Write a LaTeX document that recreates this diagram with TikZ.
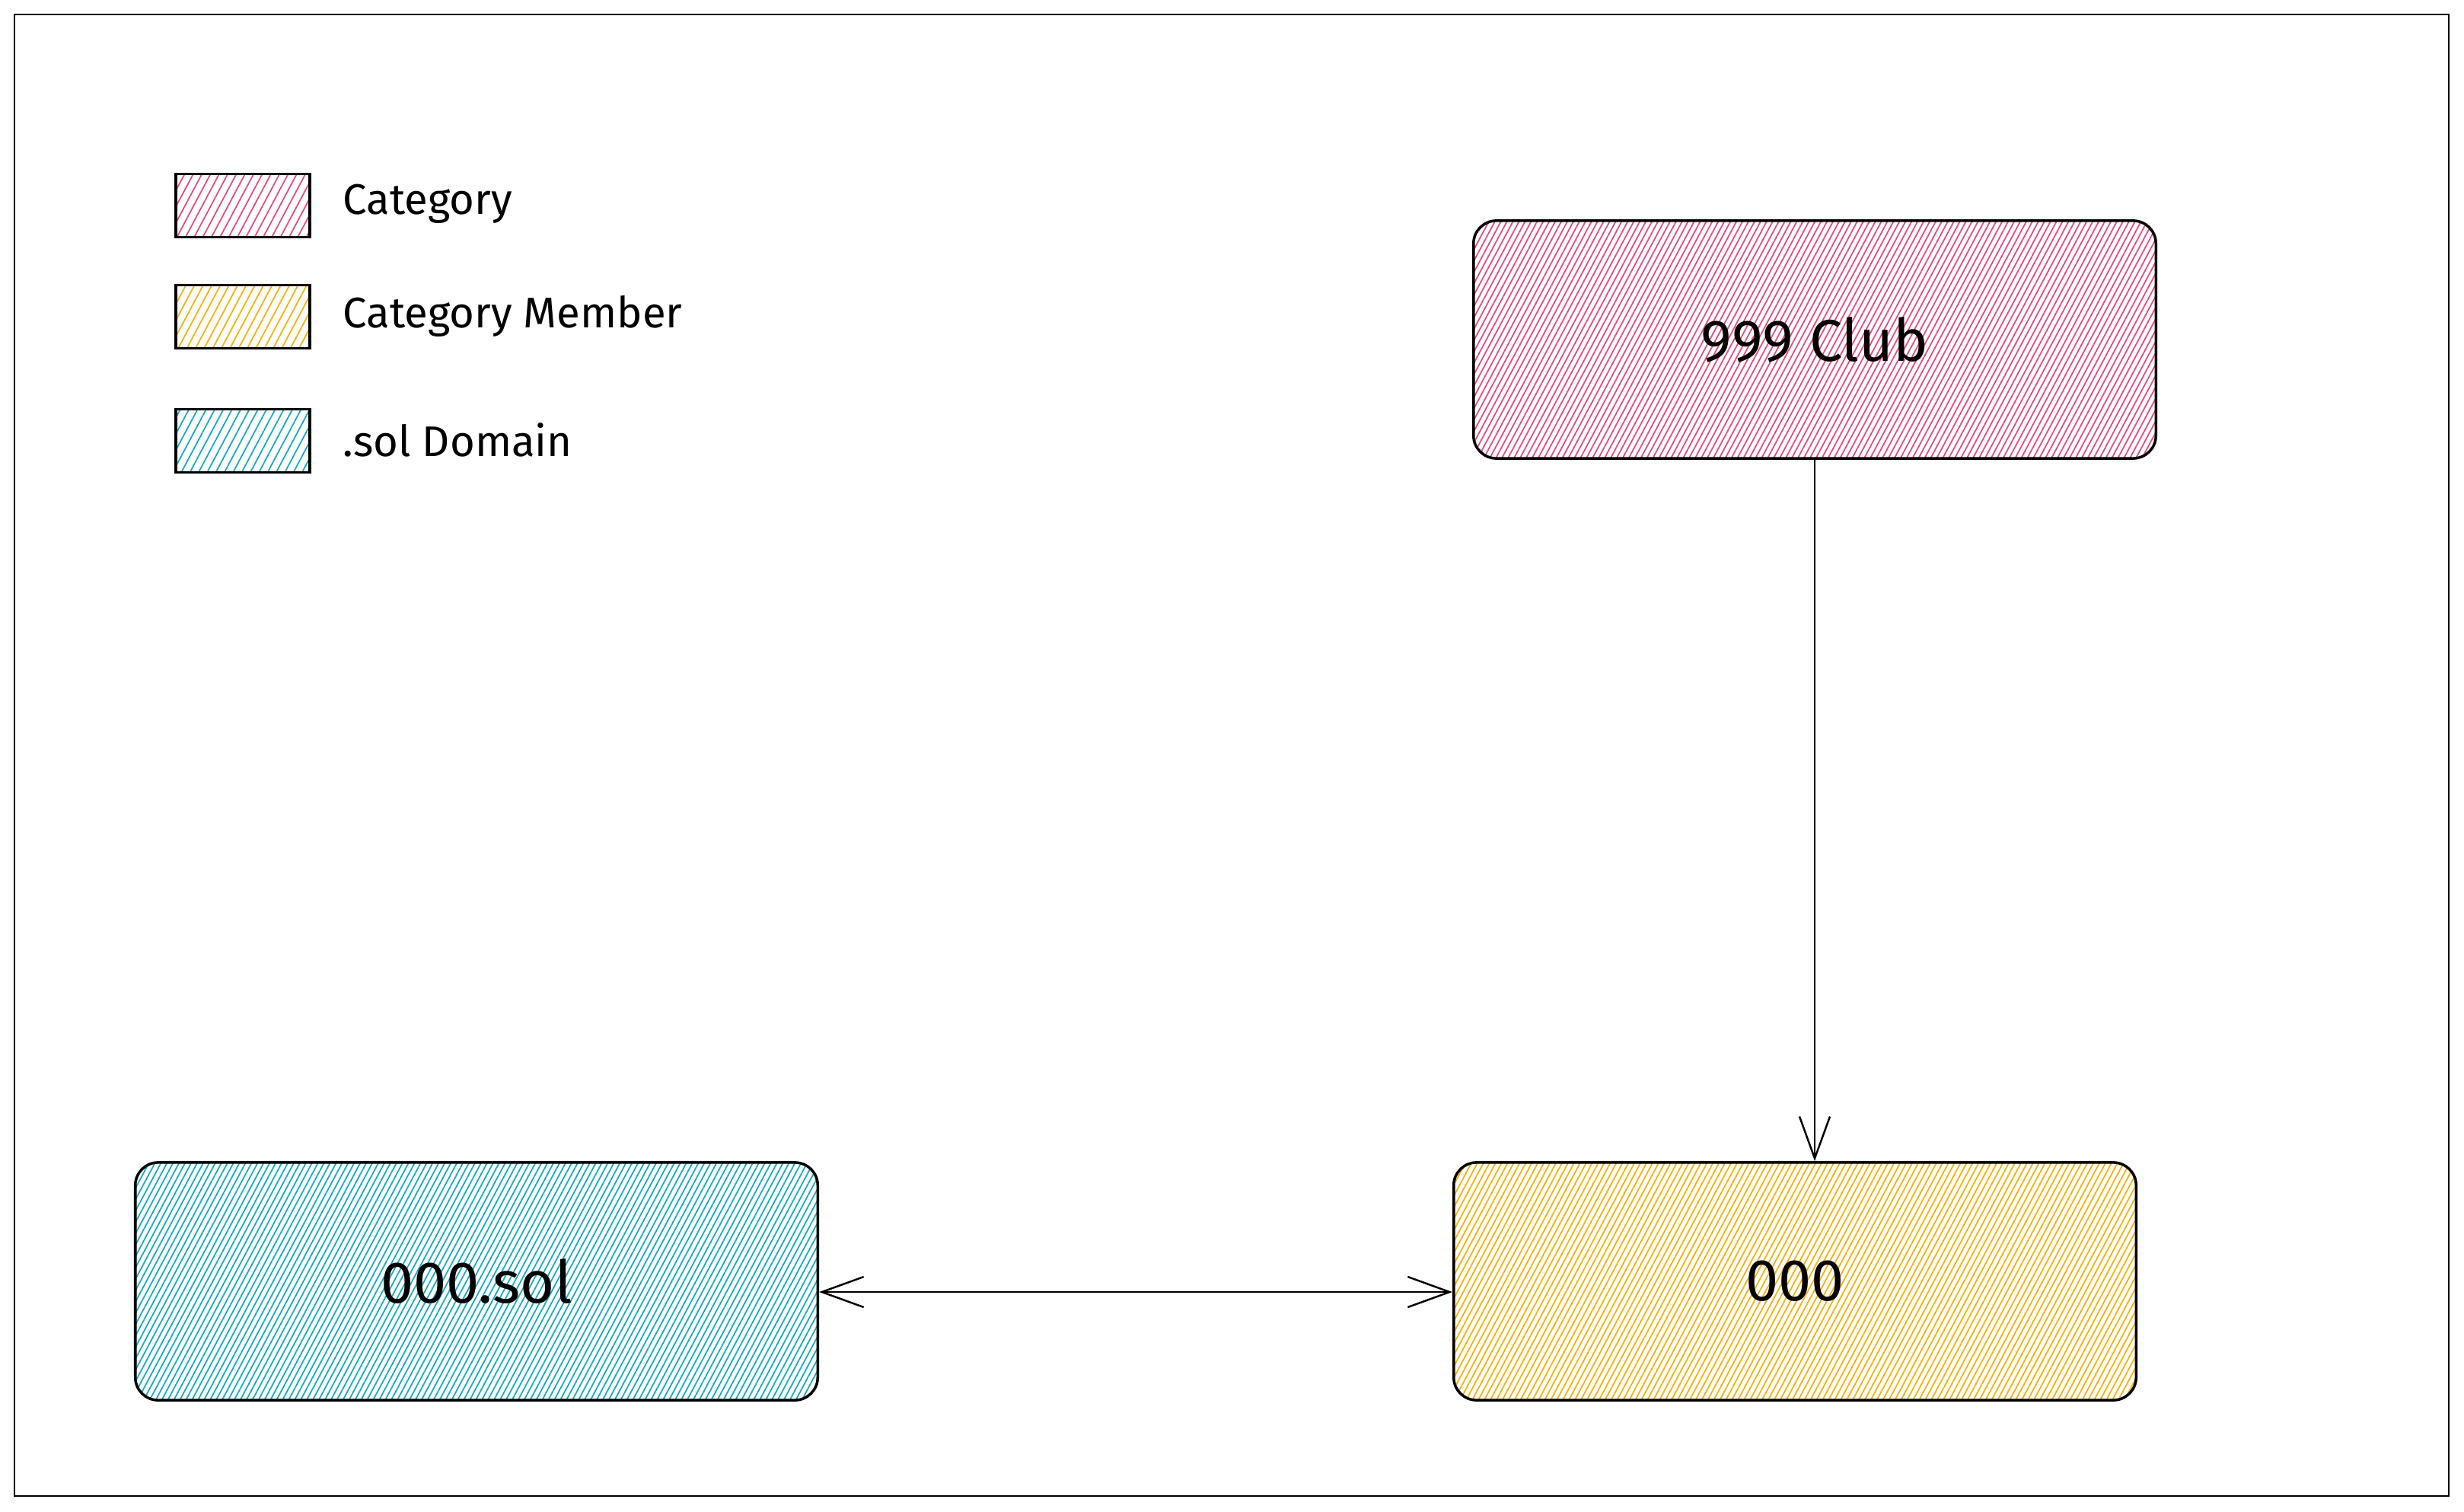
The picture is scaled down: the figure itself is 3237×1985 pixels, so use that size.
\documentclass[tikz,border=0pt]{standalone}
\usepackage{fontspec}
\setmainfont{Fira Sans}
\usetikzlibrary{arrows.meta,patterns.meta}
\tikzset{>=Straight Barb}
\definecolor{catpink}{HTML}{E64980}
\definecolor{memberyellow}{HTML}{FAB005}
\definecolor{solcyan}{HTML}{15AABF}

\begin{document}
\begin{tikzpicture}[x=0.01cm,y=-0.01cm]
	\tikzset{edge/.style = {->,> = {Straight Barb[length=5.5mm,width=4mm]}, line width=0.7pt}}
	\tikzset{box/.style = {rectangle, rounded corners=0.3cm, draw, line width=1pt, minimum width=8.96cm, minimum height=3.12cm, font=\fontsize{22}{26}\selectfont}}
	\tikzset{key/.style = {rectangle, draw, line width=1pt, minimum width=1.76cm, minimum height=0.83cm}}
	\tikzset{keytext/.style = {anchor=west, inner xsep=0pt, font=\fontsize{16}{19}\selectfont}}
	\tikzset{hatch/.style = {pattern={Lines[angle=62,distance=#1,line width=0.5pt]}}}
	\tikzset{pinkfill/.style = {hatch=0.07cm, pattern color=catpink}}
	\tikzset{yellowfill/.style = {hatch=0.07cm, pattern color=memberyellow}}
	\tikzset{cyanfill/.style = {hatch=0.07cm, pattern color=solcyan}}

	\useasboundingbox (0,0) rectangle (3237,1985);
	\draw[line width=0.8pt] (19,19) rectangle (3217,1965);

	% legend
	\node[key, pinkfill, hatch=0.1cm] (k1) at (319,270) {};
	\node[key, yellowfill, hatch=0.1cm] (k2) at (319,416) {};
	\node[key, cyanfill, hatch=0.1cm] (k3) at (319,579) {};
	\node[keytext] (t1) at (450,268) {Category};
	\node[keytext] (t2) at (450,415) {Category Member};
	\node[keytext] (t3) at (450,578) {.sol Domain};

	% boxes
	\node[box, pinkfill] (club) at (2384,446) {999 Club};
	\node[box, yellowfill] (member) at (2358,1683) {000};
	\node[box, cyanfill] (sol) at (626,1683) {000.sol};

	\draw[edge] (club.south) -- (club.south |- member.north);
	\draw[edge, <->] ([yshift=-0.14cm]sol.east) -- ([yshift=-0.14cm]member.west);
\end{tikzpicture}
\end{document}
